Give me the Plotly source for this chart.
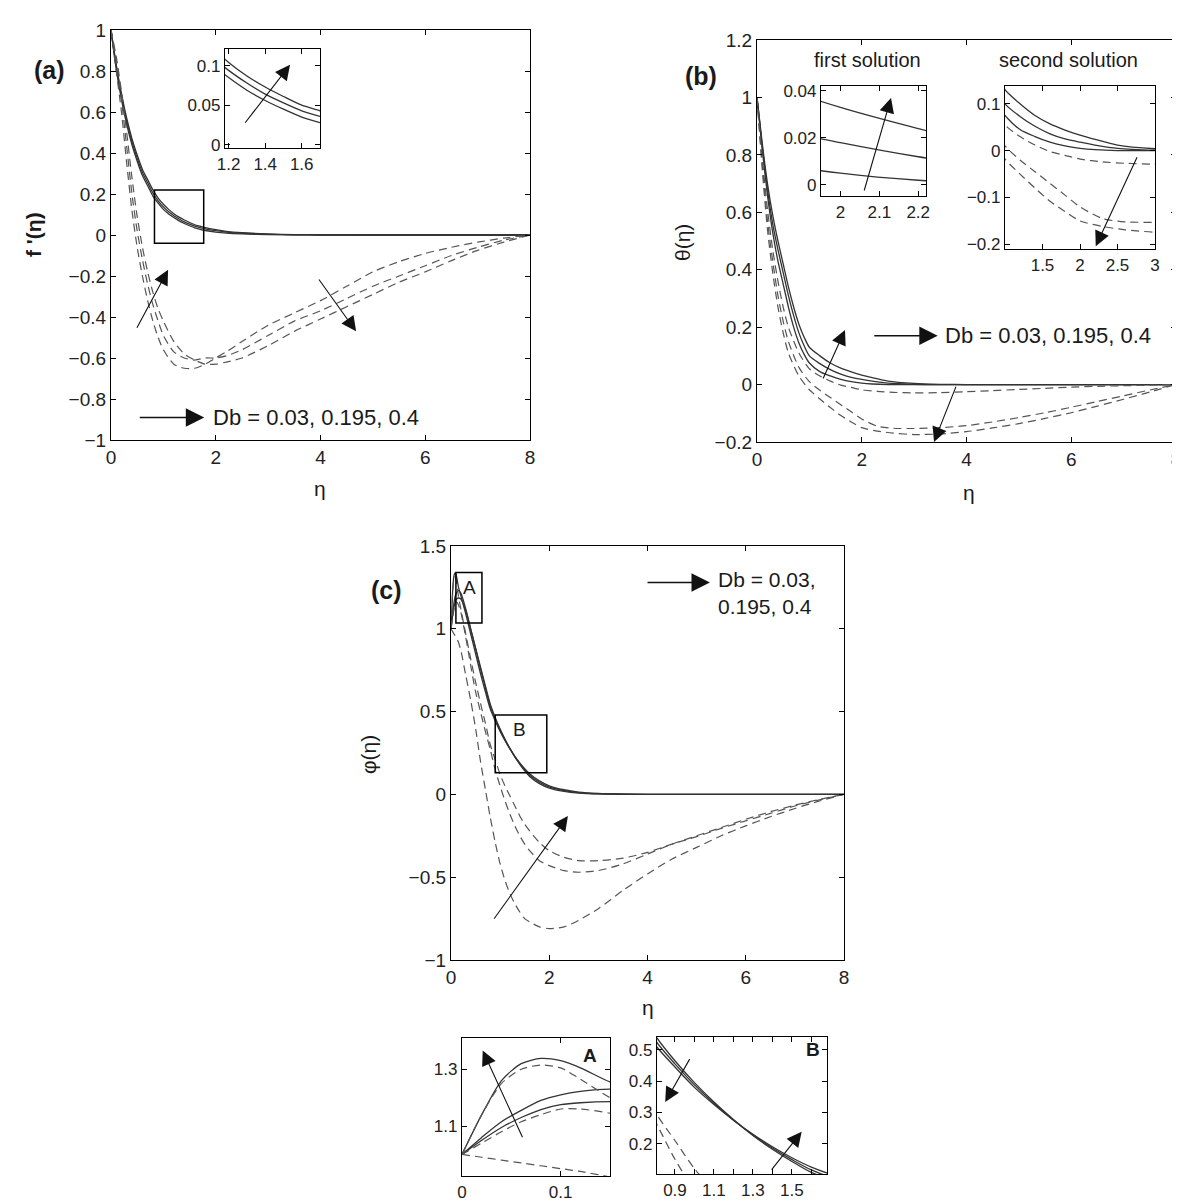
import plotly.graph_objects as go

W, H = 1180, 1201
FONT = "Liberation Sans, Arial, sans-serif"

# ---------------- data: panel (a) f'(eta) ----------------
eta_a_s = [0, 0.1, 0.2, 0.3, 0.4, 0.5, 0.6, 0.7, 0.8, 0.9, 1.0, 1.1, 1.2, 1.3, 1.4, 1.5, 1.6, 1.7, 1.8, 2.0, 2.2, 2.5, 3.0, 3.5, 4.0, 5.0, 6.0, 7.0, 8.0]
fa_s1 = [1, 0.83, 0.69, 0.57, 0.47, 0.39, 0.32, 0.27, 0.22, 0.18, 0.15, 0.125, 0.104, 0.087, 0.073, 0.061, 0.05, 0.043, 0.036, 0.026, 0.018, 0.011, 0.005, 0.002, 0.001, 0, 0, 0, 0]
fa_s2 = [1, 0.82, 0.675, 0.555, 0.455, 0.375, 0.305, 0.255, 0.205, 0.167, 0.137, 0.113, 0.094, 0.078, 0.064, 0.053, 0.043, 0.036, 0.03, 0.021, 0.014, 0.008, 0.003, 0.001, 0, 0, 0, 0, 0]
fa_s3 = [1, 0.81, 0.66, 0.54, 0.44, 0.36, 0.29, 0.24, 0.19, 0.155, 0.125, 0.103, 0.085, 0.069, 0.056, 0.045, 0.035, 0.028, 0.022, 0.014, 0.009, 0.005, 0.002, 0.001, 0, 0, 0, 0, 0]

eta_a_d = [0, 0.1, 0.2, 0.3, 0.4, 0.5, 0.6, 0.7, 0.8, 0.9, 1.0, 1.2, 1.4, 1.6, 1.8, 2.0, 2.2, 2.5, 3.0, 3.5, 4.0, 4.5, 5.0, 5.5, 6.0, 6.5, 7.0, 7.5, 8.0]
fa_d1 = [1, 0.8, 0.6, 0.35, 0.12, -0.06, -0.2, -0.32, -0.42, -0.5, -0.56, -0.63, -0.65, -0.65, -0.63, -0.6, -0.57, -0.52, -0.44, -0.38, -0.32, -0.25, -0.18, -0.13, -0.09, -0.06, -0.035, -0.015, 0]
fa_d2 = [1, 0.85, 0.66, 0.43, 0.2, 0.02, -0.12, -0.24, -0.34, -0.42, -0.49, -0.57, -0.6, -0.61, -0.6, -0.6, -0.59, -0.56, -0.49, -0.42, -0.37, -0.31, -0.25, -0.2, -0.15, -0.1, -0.06, -0.025, 0]
fa_d3 = [1, 0.87, 0.7, 0.5, 0.28, 0.09, -0.06, -0.18, -0.28, -0.36, -0.42, -0.52, -0.58, -0.61, -0.63, -0.63, -0.62, -0.6, -0.54, -0.47, -0.41, -0.35, -0.29, -0.23, -0.18, -0.125, -0.075, -0.035, 0]

# ---------------- data: panel (b) theta(eta) ----------------
eta_b_s = [0, 0.1, 0.2, 0.3, 0.4, 0.5, 0.6, 0.7, 0.8, 0.9, 1.0, 1.2, 1.4, 1.6, 1.8, 2.0, 2.2, 2.5, 3.0, 3.5, 4.0, 5.0, 6.0, 7.0, 8.0]
tb_s1 = [1, 0.84, 0.7, 0.59, 0.5, 0.42, 0.34, 0.27, 0.21, 0.165, 0.13, 0.1, 0.075, 0.057, 0.044, 0.033, 0.024, 0.012, 0.004, 0.001, 0, 0, 0, 0, 0]
tb_s2 = [1, 0.83, 0.68, 0.56, 0.47, 0.39, 0.31, 0.24, 0.18, 0.135, 0.1, 0.073, 0.052, 0.036, 0.025, 0.018, 0.012, 0.005, 0.001, 0, 0, 0, 0, 0, 0]
tb_s3 = [1, 0.82, 0.66, 0.53, 0.43, 0.35, 0.27, 0.2, 0.145, 0.105, 0.075, 0.045, 0.03, 0.018, 0.01, 0.005, 0.002, 0, 0, 0, 0, 0, 0, 0, 0]

eta_b_d = [0, 0.1, 0.2, 0.3, 0.4, 0.5, 0.6, 0.8, 1.0, 1.2, 1.4, 1.6, 1.8, 2.0, 2.3, 2.6, 3.0, 3.5, 4.0, 4.5, 5.0, 5.5, 6.0, 6.5, 7.0, 7.5, 8.0]
tb_d1 = [1, 0.79, 0.61, 0.47, 0.36, 0.27, 0.2, 0.11, 0.055, 0.03, 0.012, -0.002, -0.01, -0.018, -0.024, -0.027, -0.029, -0.028, -0.025, -0.021, -0.017, -0.013, -0.009, -0.006, -0.004, -0.002, 0]
tb_d2 = [1, 0.77, 0.57, 0.43, 0.31, 0.22, 0.15, 0.06, 0.01, -0.02, -0.045, -0.07, -0.095, -0.12, -0.145, -0.152, -0.153, -0.15, -0.143, -0.13, -0.115, -0.098, -0.079, -0.059, -0.039, -0.019, 0]
tb_d3 = [1, 0.75, 0.54, 0.39, 0.27, 0.18, 0.11, 0.03, -0.018, -0.05, -0.08, -0.108, -0.13, -0.15, -0.162, -0.169, -0.174, -0.172, -0.164, -0.151, -0.136, -0.118, -0.098, -0.075, -0.051, -0.026, 0]

# ---------------- data: panel (c) phi(eta) ----------------
eta_c = [0, 0.02, 0.04, 0.06, 0.08, 0.1, 0.12, 0.15, 0.2, 0.3, 0.4, 0.5, 0.6, 0.7, 0.8, 0.9, 1.0, 1.1, 1.2, 1.3, 1.4, 1.5, 1.6, 1.8, 2.0, 2.3, 2.6, 3.0, 3.5, 4.0, 4.5, 5.0, 5.5, 6.0, 6.5, 7.0, 7.5, 8.0]
pc_s1 = [1, 1.14, 1.26, 1.32, 1.338, 1.33, 1.305, 1.255, 1.2, 1.09, 0.97, 0.85, 0.73, 0.62, 0.515, 0.445, 0.38, 0.325, 0.275, 0.23, 0.19, 0.155, 0.125, 0.082, 0.052, 0.028, 0.014, 0.006, 0.002, 0, 0, 0, 0, 0, 0, 0, 0, 0]
pc_s2 = [1, 1.06, 1.115, 1.155, 1.19, 1.21, 1.222, 1.23, 1.215, 1.12, 1.0, 0.88, 0.76, 0.645, 0.53, 0.455, 0.388, 0.329, 0.276, 0.228, 0.186, 0.149, 0.116, 0.073, 0.045, 0.023, 0.011, 0.004, 0.001, 0, 0, 0, 0, 0, 0, 0, 0, 0]
pc_s3 = [1, 1.05, 1.095, 1.13, 1.158, 1.175, 1.182, 1.186, 1.18, 1.11, 1.0, 0.885, 0.77, 0.655, 0.545, 0.465, 0.395, 0.333, 0.277, 0.226, 0.182, 0.143, 0.108, 0.065, 0.038, 0.018, 0.008, 0.003, 0.001, 0, 0, 0, 0, 0, 0, 0, 0, 0]
pc_d1 = [1, 1.14, 1.25, 1.3, 1.315, 1.305, 1.265, 1.2, 1.12, 0.97, 0.82, 0.68, 0.55, 0.43, 0.3, 0.21, 0.12, 0.05, -0.01, -0.07, -0.13, -0.18, -0.22, -0.29, -0.34, -0.38, -0.4, -0.4, -0.385, -0.35, -0.3, -0.255, -0.205, -0.16, -0.115, -0.07, -0.033, 0]
pc_d2 = [1, 1.04, 1.08, 1.115, 1.14, 1.16, 1.16, 1.145, 1.1, 0.95, 0.78, 0.62, 0.5, 0.38, 0.27, 0.15, 0.05, -0.04, -0.12, -0.19, -0.25, -0.3, -0.34, -0.4, -0.43, -0.46, -0.47, -0.46, -0.42, -0.36, -0.3, -0.25, -0.2, -0.15, -0.105, -0.065, -0.03, 0]
pc_d3 = [1, 0.99, 0.98, 0.97, 0.96, 0.95, 0.94, 0.92, 0.87, 0.72, 0.57, 0.4, 0.2, 0.03, -0.14, -0.29, -0.42, -0.52, -0.6, -0.66, -0.71, -0.75, -0.77, -0.8, -0.81, -0.8, -0.76, -0.69, -0.58, -0.48, -0.39, -0.32, -0.25, -0.19, -0.135, -0.085, -0.04, 0]

for a, b in [(eta_a_s, fa_s1), (eta_a_s, fa_s2), (eta_a_s, fa_s3), (eta_a_d, fa_d1), (eta_a_d, fa_d2), (eta_a_d, fa_d3),
             (eta_b_s, tb_s1), (eta_b_s, tb_s2), (eta_b_s, tb_s3), (eta_b_d, tb_d1), (eta_b_d, tb_d2), (eta_b_d, tb_d3),
             (eta_c, pc_s1), (eta_c, pc_s2), (eta_c, pc_s3), (eta_c, pc_d1), (eta_c, pc_d2), (eta_c, pc_d3)]:
    assert len(a) == len(b), (len(a), len(b))

# ---------------- tick labels ----------------
ticks_eta = [0, 2, 4, 6, 8]
ticks_eta_txt = ["0", "2", "4", "6", "8"]
ticks_a_y = [-1, -0.8, -0.6, -0.4, -0.2, 0, 0.2, 0.4, 0.6, 0.8, 1]
ticks_a_y_txt = ["\u22121", "\u22120.8", "\u22120.6", "\u22120.4", "\u22120.2", "0", "0.2", "0.4", "0.6", "0.8", "1"]
ticks_ai_x = [1.2, 1.4, 1.6]
ticks_ai_x_txt = ["1.2", "1.4", "1.6"]
ticks_ai_y = [0, 0.05, 0.1]
ticks_ai_y_txt = ["0", "0.05", "0.1"]
ticks_b_y = [-0.2, 0, 0.2, 0.4, 0.6, 0.8, 1, 1.2]
ticks_b_y_txt = ["\u22120.2", "0", "0.2", "0.4", "0.6", "0.8", "1", "1.2"]
ticks_b1_x = [2, 2.1, 2.2]
ticks_b1_x_txt = ["2", "2.1", "2.2"]
ticks_b1_y = [0, 0.02, 0.04]
ticks_b1_y_txt = ["0", "0.02", "0.04"]
ticks_b2_x = [1.5, 2, 2.5, 3]
ticks_b2_x_txt = ["1.5", "2", "2.5", "3"]
ticks_b2_y = [-0.2, -0.1, 0, 0.1]
ticks_b2_y_txt = ["\u22120.2", "\u22120.1", "0", "0.1"]
ticks_c_y = [-1, -0.5, 0, 0.5, 1, 1.5]
ticks_c_y_txt = ["\u22121", "\u22120.5", "0", "0.5", "1", "1.5"]
ticks_A_x = [0, 0.1]
ticks_A_x_txt = ["0", "0.1"]
ticks_A_y = [1.1, 1.3]
ticks_A_y_txt = ["1.1", "1.3"]
ticks_B_x = [0.9, 1.0, 1.1, 1.2, 1.3, 1.4, 1.5, 1.6]
ticks_B_x_txt = ["0.9", "", "1.1", "", "1.3", "", "1.5", ""]
ticks_B_y = [0.2, 0.3, 0.4, 0.5]
ticks_B_y_txt = ["0.2", "0.3", "0.4", "0.5"]

# ---------------- layout helpers ----------------
def px2x(p):
    return p / W


def py2y(p):
    return 1 - p / H


fig = go.Figure()

SOLID = dict(color="#333333", width=1.3, shape="spline", smoothing=0.7)
DASH = dict(color="#555555", width=1.2, dash="8px,5px", shape="spline", smoothing=0.7)


def add_set(aid, xs_s, ys_s, xs_d, ys_d):
    for y in ys_s:
        fig.add_trace(go.Scatter(x=xs_s, y=y, mode="lines", line=SOLID, xaxis="x" + aid, yaxis="y" + aid,
                                 hoverinfo="skip", showlegend=False))
    for y in ys_d:
        fig.add_trace(go.Scatter(x=xs_d, y=y, mode="lines", line=DASH, xaxis="x" + aid, yaxis="y" + aid,
                                 hoverinfo="skip", showlegend=False))


add_set("", eta_a_s, [fa_s1, fa_s2, fa_s3], eta_a_d, [fa_d1, fa_d2, fa_d3])
add_set("2", eta_a_s, [fa_s1, fa_s2, fa_s3], eta_a_d, [fa_d1, fa_d2, fa_d3])
add_set("3", eta_b_s, [tb_s1, tb_s2, tb_s3], eta_b_d, [tb_d1, tb_d2, tb_d3])
add_set("4", eta_b_s, [tb_s1, tb_s2, tb_s3], eta_b_d, [tb_d1, tb_d2, tb_d3])
add_set("5", eta_b_s, [tb_s1, tb_s2, tb_s3], eta_b_d, [tb_d1, tb_d2, tb_d3])
add_set("6", eta_c, [pc_s1, pc_s2, pc_s3], eta_c, [pc_d1, pc_d2, pc_d3])
add_set("7", eta_c, [pc_s1, pc_s2, pc_s3], eta_c, [pc_d1, pc_d2, pc_d3])
add_set("8", eta_c, [pc_s1, pc_s2, pc_s3], eta_c, [pc_d1, pc_d2, pc_d3])


def axis_pair(aid, xpx, ypx, xr, yr, xt, xtt, yt, ytt, fs):
    common = dict(showline=True, linecolor="black", linewidth=1.2, mirror="ticks", ticks="inside",
                  ticklen=5, tickwidth=1, tickcolor="black", showgrid=False, zeroline=False,
                  automargin=False,
                  tickfont=dict(family=FONT, size=fs, color="#222"), fixedrange=True)
    xa = dict(common, domain=[px2x(xpx[0]), px2x(xpx[1])], range=xr, anchor="y" + aid,
              tickmode="array", tickvals=xt, ticktext=xtt)
    ya = dict(common, domain=[py2y(ypx[1]), py2y(ypx[0])], range=yr, anchor="x" + aid,
              tickmode="array", tickvals=yt, ticktext=ytt)
    return {"xaxis" + aid: xa, "yaxis" + aid: ya}


lay = {}
lay.update(axis_pair("", (103, 522), (22, 432), [0, 8], [-1, 1], ticks_eta, ticks_eta_txt, ticks_a_y, ticks_a_y_txt, 19))
lay.update(axis_pair("2", (217, 312), (41, 140), [1.18, 1.7], [-0.004, 0.121], ticks_ai_x, ticks_ai_x_txt, ticks_ai_y, ticks_ai_y_txt, 17))
lay.update(axis_pair("3", (749, 1168), (32, 434), [0, 8], [-0.2, 1.2], ticks_eta, ticks_eta_txt, ticks_b_y, ticks_b_y_txt, 19))
lay.update(axis_pair("4", (813, 918), (78, 188), [1.95, 2.22], [-0.0047, 0.0421], ticks_b1_x, ticks_b1_x_txt, ticks_b1_y, ticks_b1_y_txt, 17))
lay.update(axis_pair("5", (997, 1147), (78, 241), [1, 3], [-0.21, 0.138], ticks_b2_x, ticks_b2_x_txt, ticks_b2_y, ticks_b2_y_txt, 17))
lay.update(axis_pair("6", (443, 836), (538, 952), [0, 8], [-1, 1.5], ticks_eta, ticks_eta_txt, ticks_c_y, ticks_c_y_txt, 19))
lay.update(axis_pair("7", (454, 602), (1030, 1168), [0, 0.15], [0.924, 1.41], ticks_A_x, ticks_A_x_txt, ticks_A_y, ticks_A_y_txt, 17))
lay.update(axis_pair("8", (649, 819), (1029, 1166), [0.808, 1.68], [0.103, 0.541], ticks_B_x, ticks_B_x_txt, ticks_B_y, ticks_B_y_txt, 17))

ann = []


def arrow(aid, head, tail, big=False):
    ann.append(dict(xref="x" + aid, yref="y" + aid, axref="x" + aid, ayref="y" + aid,
                    x=head[0], y=head[1], ax=tail[0], ay=tail[1], text="", showarrow=True,
                    arrowhead=2, arrowsize=2.3 if big else 2.7, arrowwidth=1.6 if big else 1.1,
                    arrowcolor="#111"))


def text_px(txt, px, py, size, bold=False, angle=0, anchor="center"):
    ann.append(dict(xref="paper", yref="paper", x=px2x(px), y=py2y(py), text=("<b>%s</b>" % txt) if bold else txt,
                    showarrow=False, textangle=angle, xanchor=anchor, yanchor="middle",
                    font=dict(family=FONT, size=size, color="#1a1a1a")))


def text_data(aid, txt, x, y, size, anchor="left", bold=False):
    ann.append(dict(xref="x" + aid, yref="y" + aid, x=x, y=y, text=("<b>%s</b>" % txt) if bold else txt,
                    showarrow=False, xanchor=anchor, yanchor="middle", align="left",
                    font=dict(family=FONT, size=size, color="#1a1a1a")))


arrow("", (1.78, -0.89), (0.52, -0.89), big=True)
arrow("", (1.09, -0.17), (0.48, -0.46))
arrow("", (4.68, -0.47), (3.95, -0.21))
arrow("2", (1.536, 0.101), (1.284, 0.026))
arrow("3", (3.45, 0.17), (2.21, 0.17), big=True)
arrow("3", (1.68, 0.19), (1.25, 0.016))
arrow("3", (3.38, -0.2), (3.81, -0.002))
arrow("4", (2.13, 0.037), (2.06, -0.003))
arrow("5", (2.21, -0.204), (2.77, -0.011))
arrow("6", (5.27, 1.28), (3.97, 1.28), big=True)
arrow("6", (2.38, -0.13), (0.855, -0.76))
arrow("7", (0.021, 1.366), (0.062, 1.055))
arrow("8", (0.85, 0.333), (0.98, 0.475))
arrow("8", (1.55, 0.238), (1.39, 0.112))

text_data("", "Db = 0.03, 0.195, 0.4", 1.9, -0.89, 22)
text_data("3", "Db = 0.03, 0.195, 0.4", 3.55, 0.17, 22)
text_data("6", "Db = 0.03,<br>0.195, 0.4", 5.4, 1.215, 21)
text_data("6", "A", 0.37, 1.25, 19, anchor="center")
text_data("6", "B", 1.4, 0.39, 19, anchor="center")
text_data("7", "A", 0.13, 1.35, 19, anchor="center", bold=True)
text_data("8", "B", 1.61, 0.5, 19, anchor="center", bold=True)

text_px("(a)", 41, 62, 25, bold=True)
text_px("(b)", 693, 68, 25, bold=True)
text_px("(c)", 378, 582, 25, bold=True)
text_px("f '(\u03b7)", 25, 227, 21, bold=True, angle=-90)
text_px("\u03b8(\u03b7)", 674, 235, 21, angle=-90)
text_px("\u03c6(\u03b7)", 360, 747, 21, angle=-90)
text_px("\u03b7", 312, 480, 21)
text_px("\u03b7", 961, 484, 21)
text_px("\u03b7", 640, 1000, 21)
text_px("first solution", 860, 52, 20)
text_px("second solution", 1060, 52, 20)

shapes = [
    dict(type="rect", xref="x", yref="y", x0=0.83, x1=1.77, y0=-0.04, y1=0.22, line=dict(color="black", width=1.5)),
    dict(type="rect", xref="x6", yref="y6", x0=0.1, x1=0.63, y0=1.035, y1=1.34, line=dict(color="black", width=1.5)),
    dict(type="rect", xref="x6", yref="y6", x0=0.9, x1=1.95, y0=0.13, y1=0.48, line=dict(color="black", width=1.5)),
]

fig.update_layout(width=W, height=H, margin=dict(l=0, r=0, t=0, b=0, autoexpand=False), paper_bgcolor="white",
                  plot_bgcolor="white", showlegend=False, annotations=ann, shapes=shapes, **lay)

fig.write_html("out.html")
